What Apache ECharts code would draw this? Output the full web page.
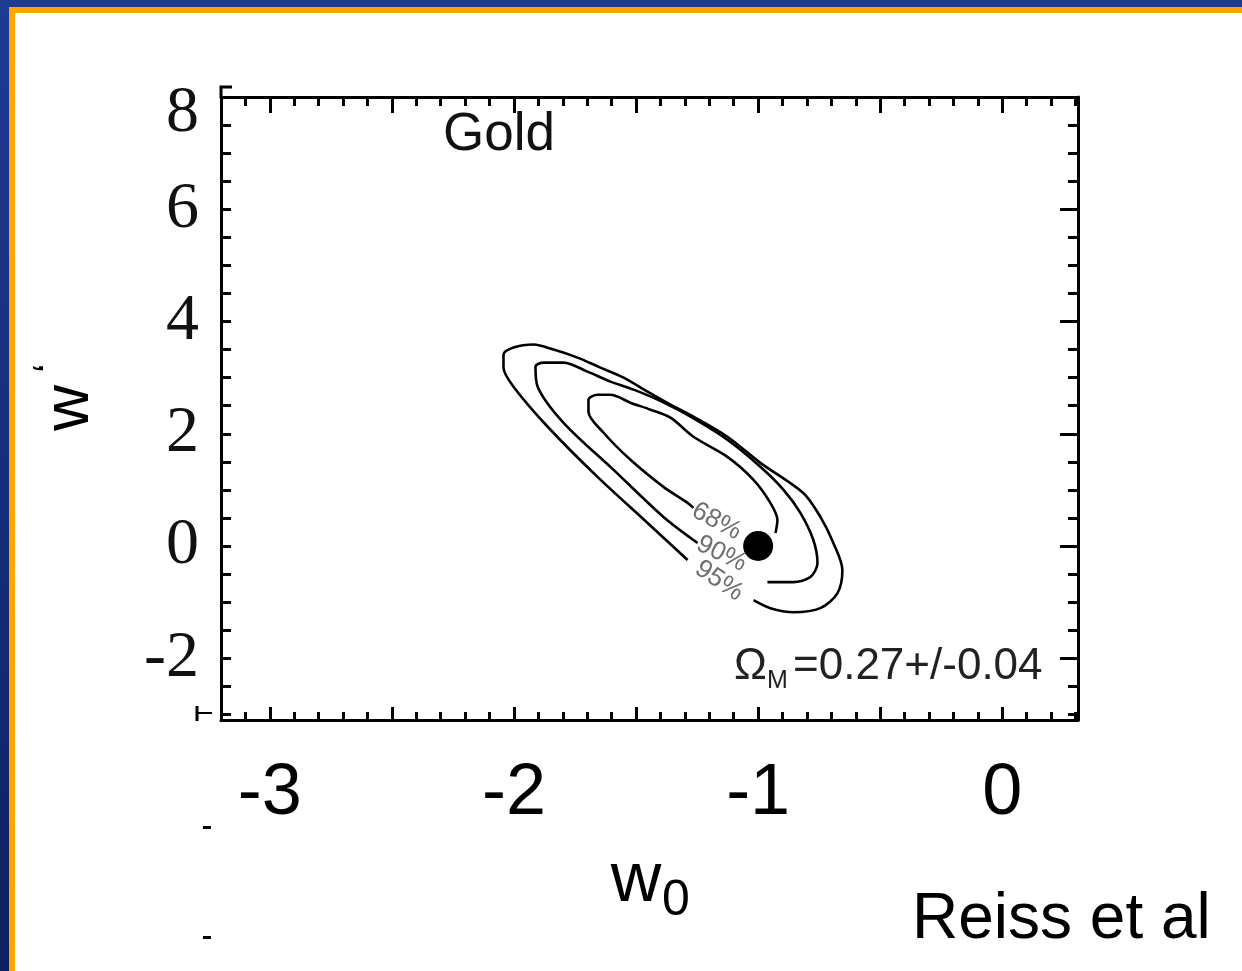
<!DOCTYPE html>
<html>
<head>
<meta charset="utf-8">
<title>w0 - w' contours (Gold)</title>
<script src="https://cdn.jsdelivr.net/npm/echarts@6.0.0/dist/echarts.min.js"></script>
<style>
  html, body { margin: 0; padding: 0; background: #fff; }
  #chart { width: 1242px; height: 971px; }
</style>
</head>
<body>
<div id="chart"></div>
<script>
// axis ranges and ticks
const xMin = -3.2, xMax = 0.31
const yMin = -3.1, yMax = 8
const xLabels = [-3, -2, -1, 0]
const xMajorTicks = [-3, -2.5, -2, -1.5, -1, -0.5, 0]
const xMinorTicks = [-3.1, -3, -2.9, -2.8, -2.7, -2.6, -2.5, -2.4, -2.3, -2.2, -2.1, -2, -1.9, -1.8, -1.7,
  -1.6, -1.5, -1.4, -1.3, -1.2, -1.1, -1, -0.9, -0.8, -0.7, -0.6, -0.5, -0.4, -0.3, -0.2, -0.1, 0, 0.1, 0.2, 0.3]
const yLabels = [-2, 0, 2, 4, 6, 8]
const yMinorTicks = [-3, -2.5, -2, -1.5, -1, -0.5, 0, 0.5, 1, 1.5, 2, 2.5, 3, 3.5, 4, 4.5, 5, 5.5, 6, 6.5, 7, 7.5, 8]

// confidence contours [w0, w'] (open where the labels sit)
const contour95 = [
  [-1.289, -0.25], [-1.453, 0.411], [-1.658, 1.232], [-1.862, 2.125], [-2.002, 2.839], [-2.043, 3.179],
  [-2.043, 3.411], [-2.002, 3.536], [-1.920, 3.589], [-1.838, 3.5], [-1.740, 3.357], [-1.646, 3.179],
  [-1.551, 3.0], [-1.453, 2.75], [-1.359, 2.518], [-1.265, 2.304], [-1.126, 1.946], [-0.991, 1.482],
  [-0.815, 0.946], [-0.745, 0.518], [-0.692, 0.054], [-0.655, -0.429], [-0.675, -0.839], [-0.745, -1.107],
  [-0.856, -1.179], [-0.950, -1.107], [-1.019, -0.964]
]
const contour90 = [
  [-1.248, 0.054], [-1.388, 0.518], [-1.592, 1.357], [-1.797, 2.196], [-1.903, 2.839], [-1.912, 3.196],
  [-1.879, 3.268], [-1.797, 3.268], [-1.699, 3.107], [-1.605, 2.929], [-1.510, 2.786], [-1.412, 2.607],
  [-1.277, 2.304], [-1.126, 1.893], [-0.991, 1.411], [-0.896, 1.0], [-0.827, 0.589], [-0.774, 0.107],
  [-0.757, -0.304], [-0.786, -0.554], [-0.856, -0.643], [-0.962, -0.643]
]
const contour68 = [
  [-1.265, 0.679], [-1.289, 0.768], [-1.388, 1.054], [-1.523, 1.536], [-1.633, 2.018], [-1.695, 2.393],
  [-1.695, 2.607], [-1.658, 2.696], [-1.605, 2.696], [-1.523, 2.554], [-1.441, 2.429], [-1.359, 2.286],
  [-1.265, 1.946], [-1.126, 1.589], [-1.019, 1.179], [-0.950, 0.768], [-0.921, 0.464], [-0.929, 0.232]
]
const bestFit = [[-1.0, 0.0]]
const contourLabels = ['68%', '90%', '95%']
const contourLabelPos = [[-1.17, 0.44], [-1.15, -0.14], [-1.16, -0.62]]
const contourLabelAngle = [-28, -26, -34]

const chart = echarts.init(document.getElementById('chart'))

const black = '#000'
const serif = 'Liberation Serif, Times New Roman, serif'
function xAxisDef(position, ticks, len, showLine, labels) {
  return {
    type: 'value', position: position, min: xMin, max: xMax,
    axisLine: { show: showLine, onZero: false, lineStyle: { color: black, width: 3 } },
    axisTick: { show: true, inside: true, length: len, customValues: ticks, lineStyle: { color: black, width: 3 } },
    axisLabel: labels ? {
      show: true, customValues: labels, margin: 38, color: '#000',
      fontFamily: 'Liberation Sans, Arial, sans-serif', fontSize: 72
    } : { show: false },
    splitLine: { show: false }
  }
}
function yAxisDef(position, ticks, len, showLine, labels) {
  return {
    type: 'value', position: position, min: yMin, max: yMax,
    axisLine: { show: showLine, onZero: false, lineStyle: { color: black, width: 3 } },
    axisTick: { show: true, inside: true, length: len, customValues: ticks, lineStyle: { color: black, width: 3 } },
    axisLabel: labels ? {
      show: true, customValues: labels, margin: 22, color: '#111',
      fontFamily: serif, fontSize: 66,
      // top label sits a little lower in the original scan
      formatter: v => v === yMax ? '{t|' + v + '}' : String(v),
      rich: { t: { fontFamily: serif, fontSize: 66, color: '#111', padding: [34, 0, 0, 0] } }
    } : { show: false },
    splitLine: { show: false }
  }
}

function line(data) {
  return {
    type: 'line', data: data, xAxisIndex: 0, yAxisIndex: 0,
    showSymbol: false, smooth: 0.3, silent: true,
    lineStyle: { color: black, width: 2.6 }
  }
}

const sans = '"Liberation Sans", Arial, sans-serif'
function txt(x, y, text, size, color, align, rotation) {
  return {
    type: 'text', x: x, y: y, rotation: rotation || 0,
    style: { text: text, fill: color, font: size + 'px ' + sans, textAlign: align, textVerticalAlign: 'middle' }
  }
}

const option = {
  animation: false,
  backgroundColor: '#fff',
  grid: { left: 221, top: 97, right: 164, bottom: 251, outerBoundsMode: 'none' },
  xAxis: [
    xAxisDef('bottom', xMajorTicks, 13, true, xLabels),
    xAxisDef('bottom', xMinorTicks, 8, false, null),
    xAxisDef('top', xMajorTicks, 16, true, null),
    xAxisDef('top', xMinorTicks, 9, false, null)
  ],
  yAxis: [
    yAxisDef('left', yMinorTicks, 10, true, yLabels),
    yAxisDef('right', yLabels, 18, true, null),
    yAxisDef('right', yMinorTicks, 10, false, null)
  ],
  series: [
    line(contour95),
    line(contour90),
    line(contour68),
    {
      type: 'scatter', data: bestFit, xAxisIndex: 0, yAxisIndex: 0,
      symbol: 'circle', symbolSize: 30, itemStyle: { color: black, opacity: 1 }, silent: true
    },
    {
      type: 'scatter', xAxisIndex: 0, yAxisIndex: 0, symbolSize: 0, silent: true,
      data: contourLabels.map((t, i) => ({
        name: t, value: contourLabelPos[i],
        label: { rotate: contourLabelAngle[i] }
      })),
      label: {
        show: true, position: 'inside', formatter: '{b}',
        color: '#4a4a4a', fontFamily: sans, fontSize: 26
      }
    }
  ],
  graphic: [
    // slide frame
    { type: 'rect', shape: { x: 0, y: 0, width: 1242, height: 7 }, style: { fill: '#1E3A94' } },
    {
      type: 'rect', shape: { x: 0, y: 0, width: 9, height: 971 },
      style: { fill: { type: 'linear', x: 0, y: 0, x2: 0, y2: 1, colorStops: [
        { offset: 0, color: '#1E3A94' }, { offset: 1, color: '#0E2160' }] } }
    },
    { type: 'rect', shape: { x: 9, y: 7, width: 1233, height: 6 }, style: { fill: '#FFA500' } },
    { type: 'rect', shape: { x: 9, y: 7, width: 6, height: 964 }, style: { fill: '#FFA500' } },
    // scan leftovers around the frame
    { type: 'polyline', shape: { points: [[232, 87], [221, 87], [221, 97]] }, style: { stroke: black, lineWidth: 3, fill: null } },
    { type: 'polyline', shape: { points: [[197, 706], [197, 721]] }, style: { stroke: black, lineWidth: 3 } },
    { type: 'polyline', shape: { points: [[197, 713], [212, 713]] }, style: { stroke: black, lineWidth: 2 } },
    { type: 'rect', shape: { x: 203, y: 826, width: 8, height: 3 }, style: { fill: black } },
    { type: 'rect', shape: { x: 203, y: 936, width: 8, height: 3 }, style: { fill: black } },
    // texts
    txt(499, 135, 'Gold', 53, '#111', 'center'),
    txt(734, 667, 'Ω', 44, '#222', 'left'),
    txt(767, 681, 'M', 25, '#222', 'left'),
    txt(793, 667, '=0.27+/-0.04', 44, '#222', 'left'),
    txt(636, 882, 'w', 70, '#000', 'center'),
    txt(676, 901, '0', 50, '#000', 'center'),
    txt(70, 408, 'w', 64, '#000', 'center', Math.PI / 2),
    txt(50, 368, '‘', 42, '#000', 'center', Math.PI / 2),
    txt(912, 920, 'Reiss et al', 64, '#000', 'left')
  ]
}

chart.setOption(option)
</script>
</body>
</html>
